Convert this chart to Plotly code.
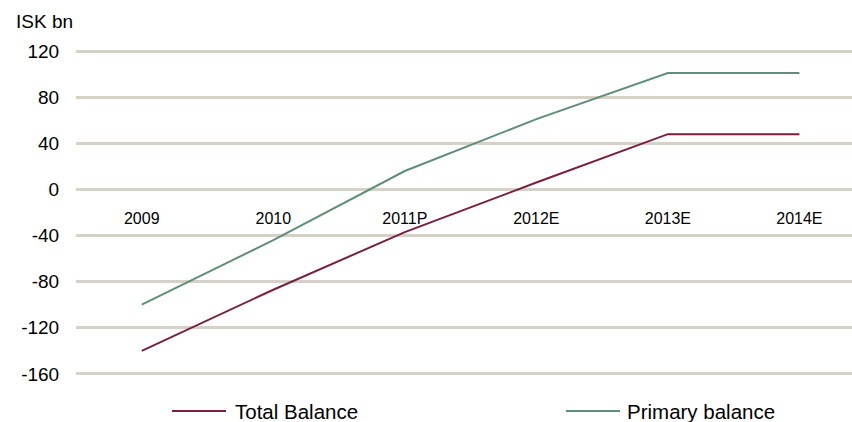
import plotly.graph_objects as go

years = ["2009", "2010", "2011P", "2012E", "2013E", "2014E"]
total_balance = [-140, -87, -37, 6, 48, 48]
primary_balance = [-100, -44, 16, 61, 101, 101]

y_ticks = [-160, -120, -80, -40, 0, 40, 80, 120]

font = "Liberation Sans, Arial, sans-serif"
c_total = "#7a1f42"
c_primary = "#5f8f78"

fig = go.Figure()
fig.add_trace(go.Scatter(x=years, y=total_balance, mode="lines", name="Total Balance",
                         line=dict(color=c_total, width=2)))
fig.add_trace(go.Scatter(x=years, y=primary_balance, mode="lines", name="Primary balance",
                         line=dict(color=c_primary, width=2)))

# plot area runs from x=76 to 852 px and y=50 to 375 px
W, H = 776, 325
def px(x):
    return (x - 76) / W
def py(y):
    return (375 - y) / H

legend_y = py(411)
shapes = [
    dict(type="line", xref="paper", yref="paper", x0=px(172), x1=px(226), y0=legend_y, y1=legend_y,
         line=dict(color=c_total, width=2)),
    dict(type="line", xref="paper", yref="paper", x0=px(566), x1=px(620), y0=legend_y, y1=legend_y,
         line=dict(color=c_primary, width=2)),
]
annotations = [
    dict(text="ISK bn", xref="paper", yref="paper", x=px(14), y=py(22),
         xanchor="left", yanchor="middle", showarrow=False, font=dict(size=19)),
    dict(text="Total Balance", xref="paper", yref="paper", x=px(233), y=legend_y,
         xanchor="left", yanchor="middle", showarrow=False, font=dict(size=20.5)),
    dict(text="Primary balance", xref="paper", yref="paper", x=px(625), y=legend_y,
         xanchor="left", yanchor="middle", showarrow=False, font=dict(size=20.5)),
]

fig.update_layout(
    width=852, height=422,
    margin=dict(l=76, r=0, t=50, b=47),
    paper_bgcolor="white", plot_bgcolor="white",
    font=dict(family=font, color="#000000"),
    showlegend=False,
    shapes=shapes,
    annotations=annotations,
)

fig.update_xaxes(
    type="category", range=[-0.5, 5.4], automargin=False,
    anchor="free", position=py(189.7),
    showgrid=False, showline=False, zeroline=False,
    ticks="outside", ticklen=14, tickcolor="rgba(0,0,0,0)",
    tickfont=dict(size=16),
)
fig.update_yaxes(
    range=[-161, 121], automargin=False,
    tickvals=y_ticks, ticktext=[str(v) for v in y_ticks],
    showgrid=True, gridcolor="#d6d1c6", gridwidth=3,
    zeroline=False, showline=False,
    ticks="outside", ticklen=12, tickcolor="rgba(0,0,0,0)",
    tickfont=dict(size=19),
)

fig.write_html("out.html", config={"displayModeBar": False},
               post_script="document.body.style.margin='0';")
